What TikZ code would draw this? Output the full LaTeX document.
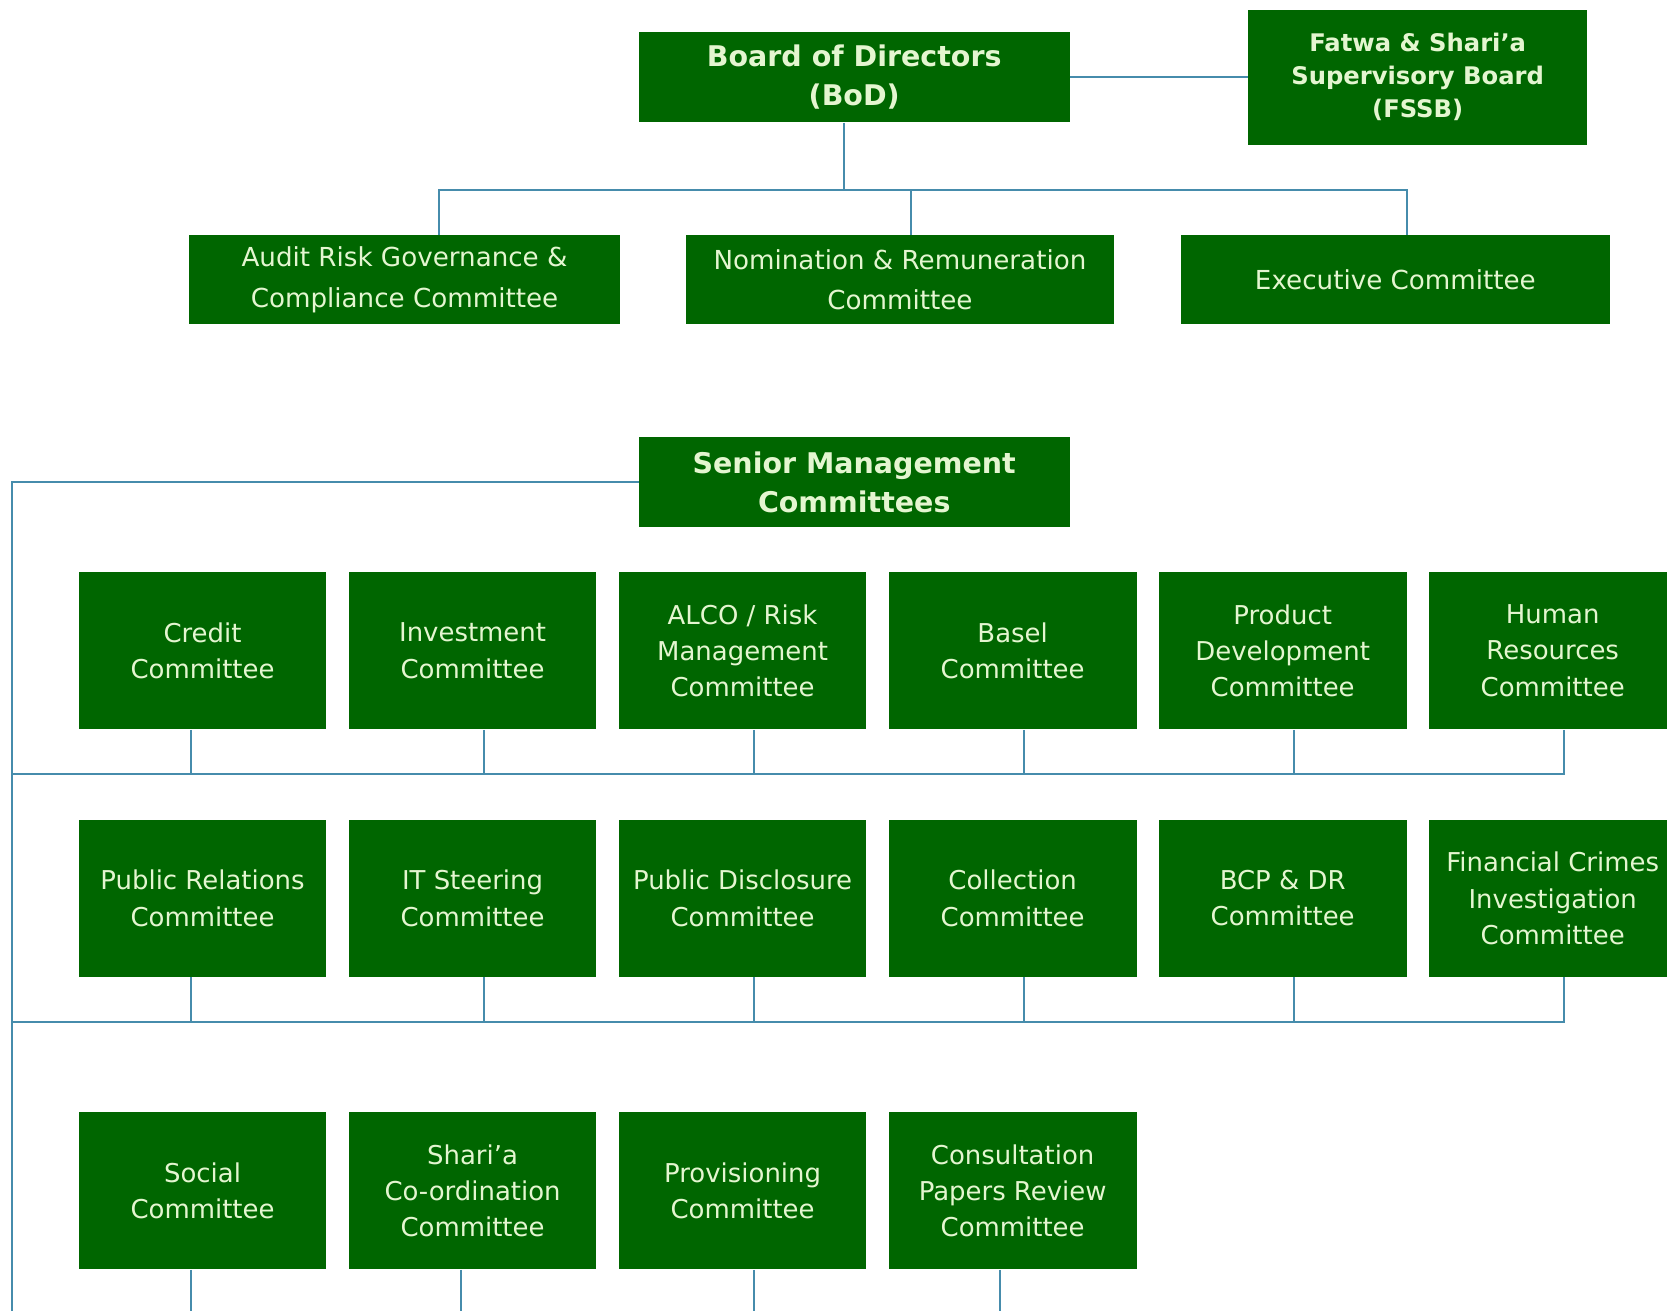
\documentclass[tikz,border=0pt]{standalone}
\usepackage{fontspec}
\setmainfont{DejaVu Sans}
\usetikzlibrary{calc}
\definecolor{boxgreen}{RGB}{0,102,0}
\definecolor{boxtext}{RGB}{228,246,208}
\definecolor{linkblue}{RGB}{70,140,172}
\begin{document}
\begin{tikzpicture}[x=0.5pt,y=-0.5pt,
  box/.style={fill=boxgreen, draw=none, text=boxtext, align=center, inner sep=0pt},
  headbox/.style={box, minimum width=202.5pt, minimum height=42.5pt, font=\bfseries\fontsize{13.4}{18.5}\selectfont},
  topbox/.style={box, minimum width=201.5pt, minimum height=42pt, font=\fontsize{12.3}{19}\selectfont},
  cbox/.style={box, minimum width=116.5pt, minimum height=74pt, font=\fontsize{12.2}{17}\selectfont},
  link/.style={draw=linkblue, line width=0.9pt}]
\useasboundingbox (0,0) rectangle (1568,1233);
\fill[white] (0,0) rectangle (1568,1233);
\clip (0,0) rectangle (1568,1233);

% top level
\node[headbox] (bod) at (803.5,72.5) {Board of Directors\\(BoD)};
\node[box, minimum width=159.5pt, minimum height=63.5pt, font=\bfseries\fontsize{11.4}{15.5}\selectfont] (fssb) at (1333.5,72.5) {Fatwa \& Shari’a\\Supervisory Board\\(FSSB)};
\node[topbox, minimum width=202.5pt] (audit) at (380.5,263) {Audit Risk Governance \&\\Compliance Committee};
\node[topbox] (nom) at (846.5,263) {Nomination \& Remuneration\\Committee};
\node[topbox] (exec) at (1312.5,263) {Executive Committee};

\coordinate (topbus) at (794,179);
\draw[link] (bod) -- (fssb);
\draw[link] ([xshift=-4.75pt]bod.south) -- (topbus);
\draw[link] ([xshift=16.25pt]audit.north) |- (topbus);
\draw[link] ([xshift=5.25pt]nom.north) |- (topbus);
\draw[link] ([xshift=5.25pt]exec.north) |- (topbus);

% senior management
\node[headbox] (sm) at (803.5,453.5) {Senior Management\\Committees};
\coordinate (leftbot) at (11,1250);
\draw[link] (sm.west) -| (leftbot);

% row 1
\node[cbox] (c1) at (190.5,612) {Credit\\Committee};
\node[cbox] (c2) at (444.5,612) {Investment\\Committee};
\node[cbox] (c3) at (698.5,612) {ALCO / Risk\\Management\\Committee};
\node[cbox] (c4) at (952.5,612) {Basel\\Committee};
\node[cbox] (c5) at (1206.5,612) {Product\\Development\\Committee};
\node[cbox] (c6) at (1460.5,612) {Human\\Resources\\Committee};
\coordinate (bus1) at (11,728);
\draw[link] ([xshift=-5.25pt]c1.south) |- (bus1);
\draw[link] ([xshift=5.25pt]c2.south) |- (bus1);
\draw[link] ([xshift=5.25pt]c3.south) |- (bus1);
\draw[link] ([xshift=5.25pt]c4.south) |- (bus1);
\draw[link] ([xshift=5.25pt]c5.south) |- (bus1);
\draw[link] ([xshift=5.25pt]c6.south) |- (bus1);

% row 2
\node[cbox] (d1) at (190.5,845) {Public Relations\\Committee};
\node[cbox] (d2) at (444.5,845) {IT Steering\\Committee};
\node[cbox] (d3) at (698.5,845) {Public Disclosure\\Committee};
\node[cbox] (d4) at (952.5,845) {Collection\\Committee};
\node[cbox] (d5) at (1206.5,845) {BCP \& DR\\Committee};
\node[cbox] (d6) at (1460.5,845) {Financial Crimes\\Investigation\\Committee};
\coordinate (bus2) at (11,961);
\draw[link] ([xshift=-5.25pt]d1.south) |- (bus2);
\draw[link] ([xshift=5.25pt]d2.south) |- (bus2);
\draw[link] ([xshift=5.25pt]d3.south) |- (bus2);
\draw[link] ([xshift=5.25pt]d4.south) |- (bus2);
\draw[link] ([xshift=5.25pt]d5.south) |- (bus2);
\draw[link] ([xshift=5.25pt]d6.south) |- (bus2);

% row 3
\node[cbox] (e1) at (190.5,1120) {Social\\Committee};
\node[cbox] (e2) at (444.5,1120) {Shari’a\\Co-ordination\\Committee};
\node[cbox] (e3) at (698.5,1120) {Provisioning\\Committee};
\node[cbox] (e4) at (952.5,1120) {Consultation\\Papers Review\\Committee};
\draw[link] ([xshift=-5.25pt]e1.south) coordinate (t1) -- (t1 |- leftbot);
\draw[link] ([xshift=-5.25pt]e2.south) coordinate (t2) -- (t2 |- leftbot);
\draw[link] ([xshift=5.25pt]e3.south) coordinate (t3) -- (t3 |- leftbot);
\draw[link] ([xshift=-5.75pt]e4.south) coordinate (t4) -- (t4 |- leftbot);
\end{tikzpicture}
\end{document}
